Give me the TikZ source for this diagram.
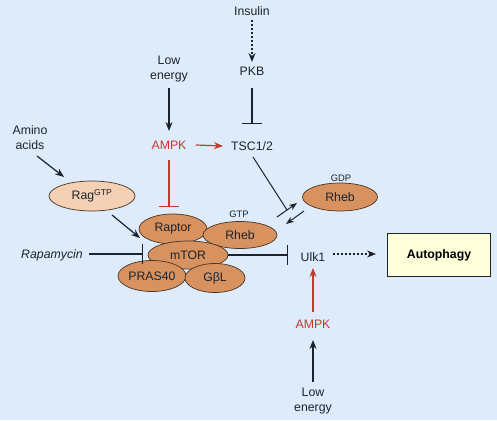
\documentclass[tikz,border=0pt]{standalone}
\usepackage{fontspec}
\setmainfont{Liberation Sans}
\usetikzlibrary{arrows.meta,shapes.geometric}
\definecolor{bgblue}{HTML}{DDEBFA}
\definecolor{prot}{HTML}{D8925F}
\definecolor{ragfill}{HTML}{F4D0B4}
\definecolor{protline}{HTML}{4A3424}
\definecolor{redc}{HTML}{C23A2C}
\definecolor{linec}{HTML}{1C232C}
\definecolor{boxfill}{HTML}{FFFFDC}
\tikzset{
  lbl/.style={inner sep=0.5pt, font=\fontsize{12.3}{15}\selectfont, text=linec, align=center},
  lbl1/.style={lbl, text height=8.6pt, text depth=0pt},
  redlbl/.style={lbl1, text=redc},
  small/.style={inner sep=0pt, font=\fontsize{9.4}{11}\selectfont, text=linec},
  prot/.style={ellipse, draw=protline, line width=0.7pt, fill=prot, inner sep=0pt, font=\fontsize{12.3}{15}\selectfont, text=linec},
  arr/.style={draw=linec, line width=1.2pt, -{Stealth[length=9pt,width=7pt]}},
  redarr/.style={draw=redc, line width=1.2pt, -{Stealth[length=9pt,width=7pt]}},
  dotarr/.style={arr, dash pattern=on 2pt off 2pt},
  inh/.style={draw=linec, line width=1.2pt, -{Bar[width=20pt,line width=1.2pt]}},
  redinh/.style={draw=redc, line width=1.2pt, -{Bar[width=20pt,line width=1.2pt]}},
  thinline/.style={draw=linec, line width=1pt},
  cyc/.style={draw=linec, line width=1pt, -{Stealth[length=8pt,width=6pt]}},
}
\begin{document}
\begin{tikzpicture}[x=1pt,y=-1pt]
\useasboundingbox[fill=bgblue] (0,0) rectangle (497,420);

% text nodes
\node[lbl1] (insulin) at (252,11) {Insulin};
\node[lbl1] (pkb) at (252,71) {PKB};
\node[lbl1] (tsc) at (252,146) {TSC1/2};
\node[lbl] (le1) at (169,69.5) {Low\\energy};
\node[redlbl] (ampk1) at (169,145) {AMPK};
\node[lbl] (amino) at (30,138) {Amino\\acids};
\node[lbl1, font=\fontsize{12.3}{15}\selectfont\itshape] (rapa) at (52,254) {Rapamycin};
\node[lbl1] (ulk) at (313,257) {Ulk1};
\node[redlbl] (ampk2) at (313,324) {AMPK};
\node[lbl] (le2) at (313,400.6) {Low\\energy};
\node[draw=linec, line width=1.5pt, fill=boxfill, minimum width=103pt, minimum height=43pt, inner sep=0pt,
      font=\fontsize{12.3}{15}\selectfont\bfseries, text=black] (auto) at (439,255) {Autophagy};

% proteins
\node[prot, fill=ragfill, minimum width=86pt, minimum height=30pt] (rag) at (92,196) {Rag\textsuperscript{GTP}};
\node[prot, minimum width=68pt, minimum height=30pt] (raptor) at (173,229) {Raptor};
\node[prot, minimum width=74pt, minimum height=27pt] (rhebT) at (240,235) {Rheb};
\node[prot, minimum width=80pt, minimum height=28pt] (mtor) at (188,255) {mTOR};
\node[prot, minimum width=68pt, minimum height=31pt] (pras) at (152,276) {PRAS40};
\node[prot, minimum width=60pt, minimum height=29pt] (gbl) at (215,278) {GβL};
\node[prot, minimum width=75pt, minimum height=28pt] (rhebD) at (340,197) {Rheb};
\node[small] (gtp) at (239,214) {GTP};
\node[small] (gdp) at (341,178) {GDP};

% connectors
\draw[dotarr] ([shift={(0,9)}]insulin.center) -- ([shift={(0,-9)}]pkb.center);
\draw[inh] ([shift={(0,17)}]pkb.center) -- ([shift={(0,-22)}]tsc.center);
\draw[arr] ([shift={(0,18.5)}]le1.center) -- ([shift={(0,-14)}]ampk1.center);
\draw[redarr] ([shift={(27,0)}]ampk1.center) -- ([shift={(-29,0)}]tsc.center);
\draw[redinh] ([shift={(0,15)}]ampk1.center) -- ([shift={(-4,-22)}]raptor.center);
\draw[arr] ([shift={(7,18)}]amino.center) -- ([shift={(-28,-19)}]rag.center);
\draw[arr] ([shift={(20,19)}]rag.center) -- ([shift={(-33,9)}]raptor.center);
\draw[inh] ([shift={(37,0)}]rapa.center) -- ([shift={(-45,-1)}]mtor.center);
\draw[inh] ([shift={(40,0)}]mtor.center) -- ([shift={(-25,-2)}]ulk.center);
\draw[dotarr] ([shift={(20,-3)}]ulk.center) -- ([shift={(-63,-1)}]auto.center);
\draw[redarr] ([shift={(0,-12)}]ampk2.center) -- ([shift={(0,11)}]ulk.center);
\draw[arr] ([shift={(0,-18.6)}]le2.center) -- ([shift={(0,16)}]ampk2.center);
% Rheb cycle
\draw[cyc] ([shift={(37,-18)}]rhebT.center) -- ([shift={(-43,6)}]rhebD.center);
\draw[cyc] ([shift={(-36,14)}]rhebD.center) -- ([shift={(46,-11)}]rhebT.center);
\draw[thinline] ([shift={(1,11)}]tsc.center) -- ([shift={(35,64)}]tsc.center);
\end{tikzpicture}
\end{document}
